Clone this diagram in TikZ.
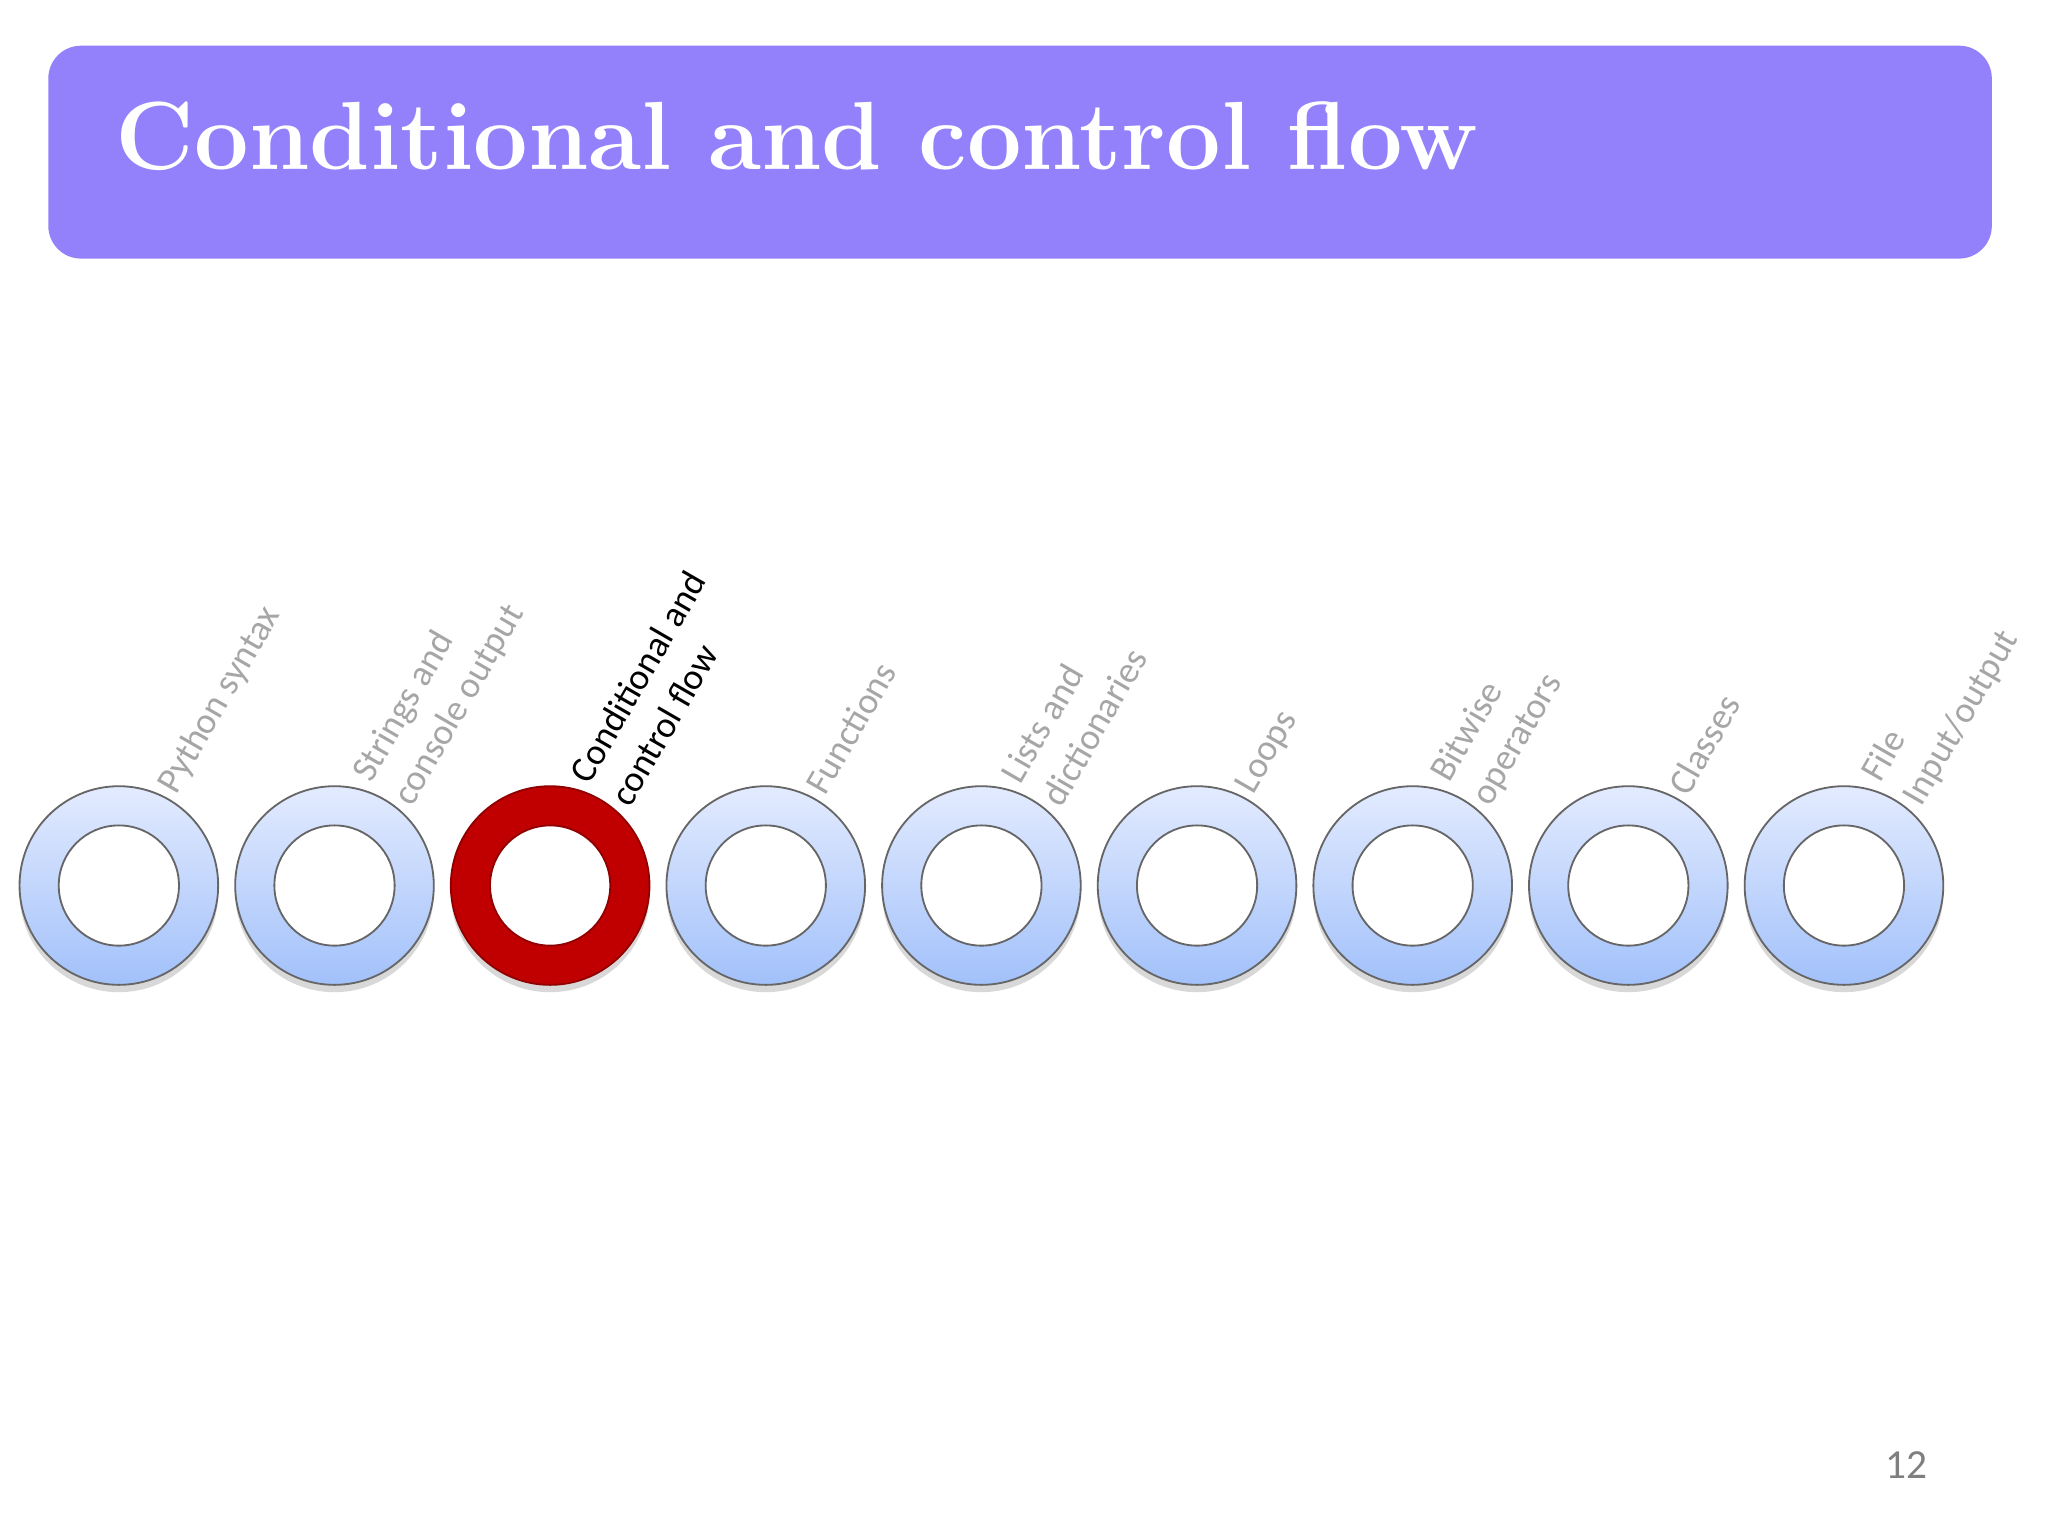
\documentclass[tikz,border=0pt]{standalone}
\usepackage{fontspec}
\setsansfont{Carlito}
\usetikzlibrary{shadows}
\definecolor{tbar}{HTML}{9381FB}
\definecolor{rtop}{HTML}{E3EBFF}
\definecolor{rbot}{HTML}{A2C1FA}
\definecolor{ron}{HTML}{C00000}
\definecolor{tgray}{HTML}{A6A6A6}
\definecolor{pgray}{HTML}{7F7F7F}

\tikzset{
  ring/.style={circle, minimum size=1.52cm, inner sep=0pt, line width=0.4pt,
    drop shadow={shadow xshift=0pt, shadow yshift=-1.6pt, opacity=0.3}},
  ring off/.style={ring, top color=rtop, bottom color=rbot, draw=gray!80!black},
  ring on/.style={ring, fill=ron, draw=ron!75!black},
  hole/.style={circle, minimum size=0.92cm, inner sep=0pt, fill=white, line width=0.4pt},
  hole off/.style={hole, draw=gray!80!black},
  hole on/.style={hole, draw=ron!75!black},
  lbl/.style={font=\sffamily\fontsize{8}{10.2}\selectfont, rotate=60, anchor=west, align=left, inner sep=0pt},
  lbl off/.style={lbl, text=tgray},
  lbl on/.style={lbl, text=black},
}

\begin{document}
\begin{tikzpicture}[x=0.01cm, y=0.01cm]
  \useasboundingbox (0,0) rectangle (1568,1176);
  \fill[white] (0,0) rectangle (1568,1176);

  % title bar
  \fill[tbar, rounded corners=0.25cm] (37,978) rectangle (1525,1141);
  \node[anchor=base west, inner sep=0pt, text=white, font=\bfseries\fontsize{21.1}{25}\selectfont] (title) at (88,1046) {Conditional and control flow};

  % topics
  \foreach \i/\st/\txt in {1/off/{Python syntax}, 2/off/{Strings and\\console output}, 3/on/{Conditional and\\control flow}, 4/off/{Functions}, 5/off/{Lists and\\dictionaries}, 6/off/{Loops}, 7/off/{Bitwise\\operators}, 8/off/{Classes}, 9/off/{File\\Input/output}} {
    \node[ring \st] (r\i) at ({91+165.1*(\i-1)},498) {};
    \node[hole \st] (h\i) at (r\i) {};
    \node[lbl \st] (t\i) at ([shift={(37,72)}]r\i.center) {\txt};
  }

  \node[font=\sffamily\fontsize{9}{11}\selectfont, text=pgray] (page) at (1460,54) {12};
\end{tikzpicture}
\end{document}
